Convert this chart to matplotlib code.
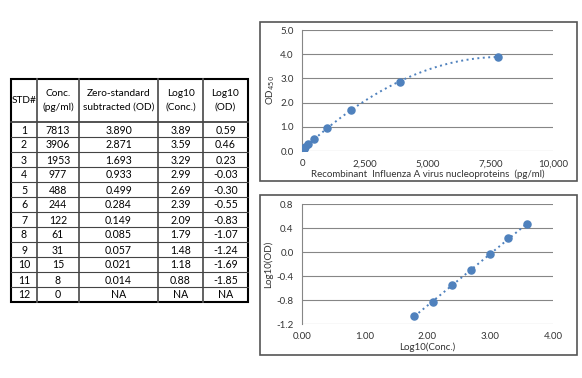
import matplotlib.pyplot as plt
import numpy as np

# standard curve table values
std_ids = [str(i) for i in range(1, 13)]
conc = ["7813", "3906", "1953", "977", "488", "244", "122", "61", "31", "15", "8", "0"]
od = ["3.890", "2.871", "1.693", "0.933", "0.499", "0.284", "0.149", "0.085",
      "0.057", "0.021", "0.014", "NA"]
log_conc = ["3.89", "3.59", "3.29", "2.99", "2.69", "2.39", "2.09", "1.79",
            "1.48", "1.18", "0.88", "NA"]
log_od = ["0.59", "0.46", "0.23", "-0.03", "-0.30", "-0.55", "-0.83", "-1.07",
          "-1.24", "-1.69", "-1.85", "NA"]
headers = ["STD#", "Conc.\n(pg/ml)", "Zero-standard\nsubtracted (OD)",
           "Log10\n(Conc.)", "Log10\n(OD)"]

# points plotted in each chart
top_x = [7813, 3906, 1953, 977, 488, 244, 122, 61, 31, 15, 8]
top_y = [3.890, 2.871, 1.693, 0.933, 0.499, 0.284, 0.149, 0.085, 0.057, 0.021, 0.014]
bot_x = [3.59, 3.29, 2.99, 2.69, 2.39, 2.09, 1.79]
bot_y = [0.46, 0.23, -0.03, -0.30, -0.55, -0.83, -1.07]

BLUE = "#4F81BD"
GRID = "#868686"
FONT = "Lato"
W, H = 582, 378

plt.rcParams["font.family"] = [FONT, "DejaVu Sans"]
fig = plt.figure(figsize=(W / 100, H / 100), dpi=100)

# background layer in pixel coordinates for table and chart frames
bg = fig.add_axes([0, 0, 1, 1], zorder=0)
bg.set_xlim(0, W)
bg.set_ylim(H, 0)
bg.axis("off")

col_edges = [11, 37, 79, 158, 203, 248]
top, head_bottom, row_h = 79, 122, 15
n_rows = len(std_ids)
bottom = head_bottom + row_h * n_rows

for x in col_edges[1:-1]:
    bg.plot([x, x], [top, bottom], color="#555555", lw=1.3)
for i in range(1, n_rows):
    y = head_bottom + i * row_h
    bg.plot([col_edges[0], col_edges[-1]], [y, y], color="#444444", lw=0.8)
bg.plot([col_edges[0], col_edges[-1]], [head_bottom, head_bottom], color="#444444", lw=1.3)
bg.add_patch(plt.Rectangle((col_edges[0], top), col_edges[-1] - col_edges[0],
                           bottom - top, fill=False, ec="black", lw=1.5))

centers = [(a + b) / 2 for a, b in zip(col_edges[:-1], col_edges[1:])]
for cx, h in zip(centers, headers):
    bg.text(cx, (top + head_bottom) / 2, h, ha="center", va="center",
            fontsize=7.3, linespacing=1.7)
for i, row in enumerate(zip(std_ids, conc, od, log_conc, log_od)):
    cy = head_bottom + (i + 0.5) * row_h
    for cx, val in zip(centers, row):
        bg.text(cx, cy + 0.5, val, ha="center", va="center", fontsize=7.6)

# chart frames
for y0, y1 in [(22, 181), (195, 355)]:
    bg.add_patch(plt.Rectangle((260, y0), 317, y1 - y0, fill=False,
                               ec="#555555", lw=1.2))


def style(ax):
    ax.set_facecolor("none")
    ax.grid(axis="y", color=GRID, lw=0.8)
    ax.set_axisbelow(True)
    for s in ["top", "right", "bottom"]:
        ax.spines[s].set_visible(False)
    ax.spines["left"].set_color(GRID)
    ax.spines["left"].set_linewidth(0.8)
    ax.tick_params(length=0, labelsize=7, colors="#333333", pad=6)


# top chart: OD vs concentration with 2nd order polynomial trendline
ax1 = fig.add_axes([302 / W, 1 - 151 / H, 251 / W, 121 / H], zorder=1)
style(ax1)
coef = np.polyfit(top_x, top_y, 2)
xs = np.linspace(0, max(top_x), 200)
ax1.plot(xs, np.polyval(coef, xs), ls=(0, (1, 1.8)), color=BLUE, lw=1.4)
ax1.scatter(top_x, top_y, s=26, color=BLUE, zorder=3)
ax1.set_xlim(0, 10000)
ax1.set_ylim(0, 5)
ax1.set_xticks([0, 2500, 5000, 7500, 10000])
ax1.set_xticklabels(["0", "2,500", "5,000", "7,500", "10,000"])
ax1.set_yticks(np.arange(0, 5.01, 1.0))
ax1.set_yticklabels([f"{v:.1f}" for v in np.arange(0, 5.01, 1.0)])
ax1.set_xlabel("Recombinant  Influenza A virus nucleoproteins  (pg/ml)",
               fontsize=7, color="#333333", labelpad=1)
ax1.set_ylabel("OD$_{450}$", fontsize=7, color="#333333", labelpad=2)

# bottom chart: log-log with linear trendline
ax2 = fig.add_axes([302 / W, 1 - 324 / H, 251 / W, 120 / H], zorder=1)
style(ax2)
lin = np.polyfit(bot_x, bot_y, 1)
xl = np.array([min(bot_x), max(bot_x)])
ax2.plot(xl, np.polyval(lin, xl), ls=(0, (1, 1.8)), color=BLUE, lw=1.4)
ax2.scatter(bot_x, bot_y, s=26, color=BLUE, zorder=3)
ax2.set_xlim(0, 4)
ax2.set_ylim(-1.2, 0.8)
ax2.set_xticks([0, 1, 2, 3, 4])
ax2.set_xticklabels([f"{v:.2f}" for v in [0, 1, 2, 3, 4]])
yt = [-1.2, -0.8, -0.4, 0.0, 0.4, 0.8]
ax2.set_yticks(yt)
ax2.set_yticklabels([f"{v:.1f}" for v in yt])
ax2.set_xlabel("Log10(Conc.)", fontsize=7, color="#333333", labelpad=1)
ax2.set_ylabel("Log10(OD)", fontsize=7, color="#333333", labelpad=2)

fig.savefig("out.png", dpi=100)
